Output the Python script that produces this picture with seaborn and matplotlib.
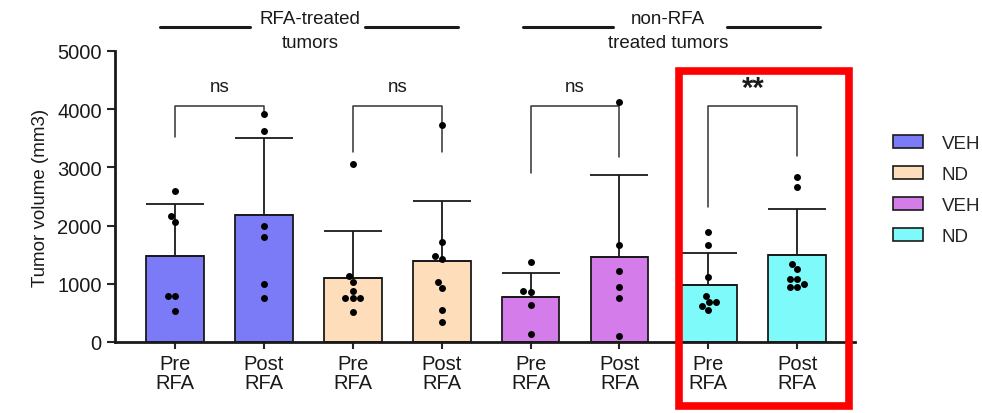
import numpy as np
import pandas as pd
import matplotlib
matplotlib.use("Agg")
import matplotlib.pyplot as plt
import matplotlib.patches as mpatches
from matplotlib.lines import Line2D
import seaborn as sns

# ─── DATA ─────────────────────────────────────────────────────────────────────
conditions = ["VEH RFA Pre", "VEH RFA Post", "ND RFA Pre", "ND RFA Post",
              "VEH non Pre", "VEH non Post", "ND non Pre", "ND non Post"]
tick_labels = ["Pre\nRFA", "Post\nRFA"] * 4
bar_means = [1480, 2180, 1100, 1390, 770, 1460, 980, 1490]
bar_upper = [2370, 3500, 1900, 2430, 1180, 2870, 1530, 2280]

pts_veh_rfa_pre = [2590, 2160, 2060, 790, 790, 530]
pts_veh_rfa_post = [3910, 3620, 2000, 1800, 1000, 760]
pts_nd_rfa_pre = [3050, 1130, 1030, 870, 750, 750, 750, 510]
pts_nd_rfa_post = [3720, 1710, 1470, 1420, 1030, 930, 550, 340]
pts_veh_non_pre = [1370, 880, 860, 630, 140]
pts_veh_non_post = [4130, 1660, 1220, 940, 750, 100]
pts_nd_non_pre = [1890, 1660, 1110, 790, 680, 680, 620, 550]
pts_nd_non_post = [2830, 2660, 1340, 1250, 1080, 1080, 1000, 940, 940]

bracket_top = 4050
bracket_left = [3530, 3260, 2900, 2320]
bracket_right = [3910, 3260, 3170, 3190]
bracket_text = ["ns", "ns", "ns", "**"]

legend_labels = ["VEH", "ND", "VEH", "ND"]
group_colors = ["#7B7BF8", "#FDDDBA", "#D47CEA", "#7EFAFA"]

# ─── STYLE ────────────────────────────────────────────────────────────────────
sns.set_style("ticks")
plt.rcParams["font.family"] = ["Liberation Sans", "DejaVu Sans"]
INK = "#1a1a1a"

bars = pd.DataFrame({"cond": conditions, "mean": bar_means})
all_pts = [pts_veh_rfa_pre, pts_veh_rfa_post, pts_nd_rfa_pre, pts_nd_rfa_post,
           pts_veh_non_pre, pts_veh_non_post, pts_nd_non_pre, pts_nd_non_post]
points = pd.DataFrame({
    "cond": [c for c, p in zip(conditions, all_pts) for _ in p],
    "vol": [v for p in all_pts for v in p],
})
palette = {c: group_colors[i // 2] for i, c in enumerate(conditions)}

fig = plt.figure(figsize=(9.82, 4.14), dpi=100)
ax = fig.add_axes([0.1171, 0.1715, 0.7536, 0.703])

sns.barplot(data=bars, x="cond", y="mean", hue="cond", palette=palette,
            order=conditions, legend=False, width=0.65, saturation=1,
            edgecolor=INK, linewidth=1.3, ax=ax)

sd = np.array(bar_upper) - np.array(bar_means)
ax.errorbar(np.arange(len(conditions)), bar_means,
            yerr=[np.zeros(len(sd)), sd], fmt="none", ecolor=INK,
            elinewidth=1.3, capsize=21, capthick=1.3, zorder=3)

sns.swarmplot(data=points, x="cond", y="vol", order=conditions,
              color="black", size=5, ax=ax, zorder=4)

# significance brackets
for i in range(4):
    x0, x1 = 2 * i, 2 * i + 1
    ax.plot([x0, x0, x1, x1],
            [bracket_left[i], bracket_top, bracket_top, bracket_right[i]],
            color="#333333", lw=1.1, clip_on=False)
    if bracket_text[i] == "**":
        ax.text((x0 + x1) / 2, bracket_top + 80, bracket_text[i],
                ha="center", va="bottom", fontsize=21, color=INK,
                fontweight="bold")
    else:
        ax.text((x0 + x1) / 2, bracket_top + 200, bracket_text[i],
                ha="center", va="bottom", fontsize=13.5, color=INK)

ax.set_xlim(-0.675, 7.65)
ax.set_ylim(0, 5000)
ax.set_yticks(range(0, 5001, 1000))
ax.set_xticks(range(8))
ax.set_xticklabels(tick_labels, fontsize=14.5, color=INK, linespacing=1.0)
ax.tick_params(axis="y", labelsize=14.5, labelcolor=INK, width=1.5, length=6)
ax.tick_params(axis="x", width=1.5, length=5, pad=4)
ax.set_xlabel("")
ax.set_ylabel("Tumor volume (mm3)", fontsize=13.5, color=INK, labelpad=6)
for s in ["left", "bottom"]:
    ax.spines[s].set_linewidth(2)
    ax.spines[s].set_color(INK)
sns.despine(ax=ax)

# group headers
def header(x_text, label, line1, line2):
    fig.text(x_text / 982, 1 - 20 / 414, label[0], ha="center", va="center",
             fontsize=13.5, color=INK)
    fig.text(x_text / 982, 1 - 43 / 414, label[1], ha="center", va="center",
             fontsize=13.5, color=INK)
    for a, b in (line1, line2):
        fig.add_artist(Line2D([a / 982, b / 982], [1 - 28 / 414] * 2,
                              color=INK, lw=2.2))

header(310, ("RFA-treated", "tumors"), (160, 250), (365, 458))
header(668, ("non-RFA", "treated tumors"), (523, 613), (727, 820))

# legend
handles = [mpatches.Patch(facecolor=c, edgecolor=INK, linewidth=1.2)
           for c in group_colors]
fig.legend(handles, legend_labels, loc="center left",
           bbox_to_anchor=(893 / 982, 1 - 191 / 414), frameon=False,
           fontsize=13.5, handlelength=1.6, handleheight=0.7,
           labelspacing=0.75, handletextpad=1.0, borderpad=0,
           borderaxespad=0)

# red highlight box
fig.add_artist(mpatches.Rectangle((679 / 982, 1 - 407 / 414),
                                  170 / 982, 335 / 414,
                                  transform=fig.transFigure, fill=False,
                                  edgecolor="#FF0000", linewidth=5.5))

plt.savefig("out.png", dpi=100)
plt.close()
